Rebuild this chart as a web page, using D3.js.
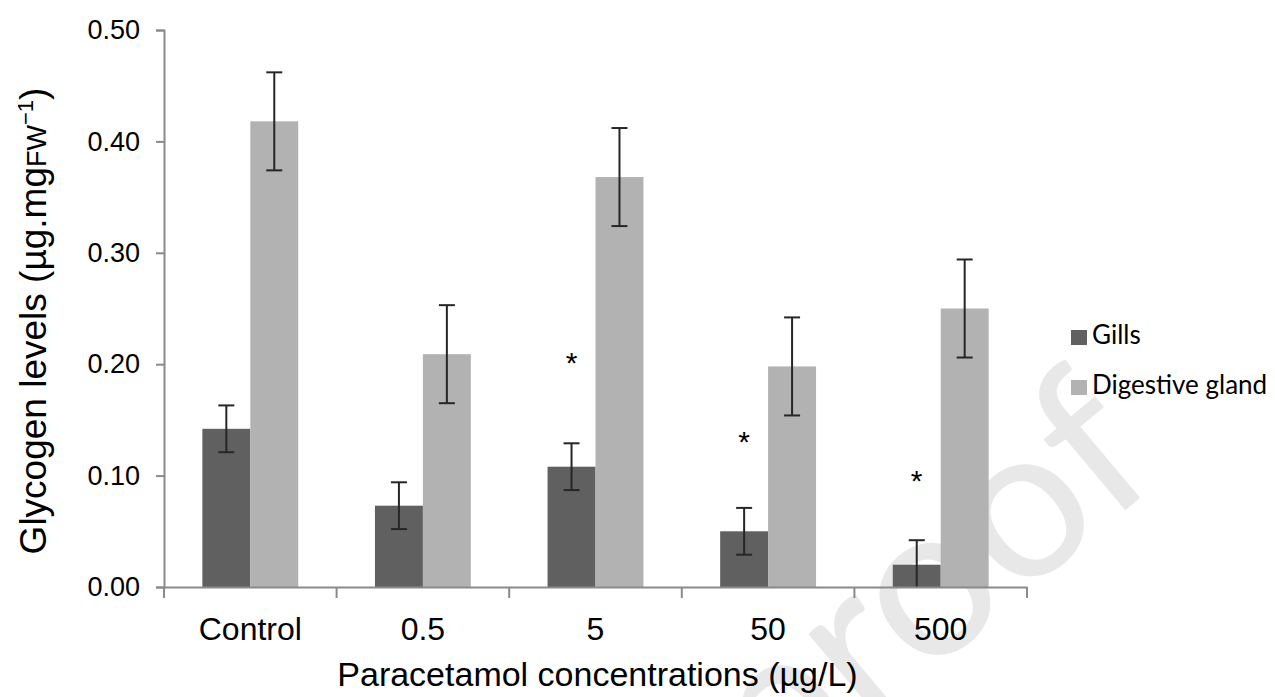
<!DOCTYPE html>
<html>
<head>
<meta charset="utf-8">
<script src="https://cdnjs.cloudflare.com/ajax/libs/d3/7.8.5/d3.min.js"></script>
<style>
    body { margin: 0; background: #fff; }
    text { font-family: Arial, "Liberation Sans", sans-serif; }
</style>
</head>
<body>
<div id="chart"></div>
<script>
// data
const categories = ["Control", "0.5", "5", "50", "500"];
const seriesNames = ["Gills", "Digestive gland"];
const gills = [0.142, 0.073, 0.108, 0.050, 0.020];
const gillsErr = [0.021, 0.021, 0.021, 0.021, 0.022];
const gland = [0.418, 0.209, 0.368, 0.198, 0.250];
const glandErr = [0.044, 0.044, 0.044, 0.044, 0.044];
// level (in y units) where the "*" marks sit, null = no mark
const starLevels = [null, null, 0.206, 0.135, 0.100];
const yTicks = [0, 0.1, 0.2, 0.3, 0.4, 0.5];

const width = 1275, height = 697;
const margin = { top: 30, right: 248, bottom: 110, left: 164 };
const colors = { "Gills": "#606060", "Digestive gland": "#b2b2b2" };
const axisColor = "#8a8a8a";

let svg = d3.select("#chart").append("svg")
    .attr("width", width)
    .attr("height", height);

// watermark
svg.append("text")
    .attr("transform", "translate(1166,476) rotate(-40)")
    .attr("text-anchor", "end")
    .attr("font-size", 215)
    .attr("fill", "#e8e8e8")
    .style("font-family", "Lato, sans-serif")
    .text("Journal Pre-proof");

let g = svg.append("g").attr("transform", `translate(${margin.left},${margin.top})`);
let w = width - margin.left - margin.right;
let h = height - margin.top - margin.bottom;

let x0 = d3.scaleBand().domain(categories).range([0, w]).padding(0);
let x1 = d3.scaleBand().domain(seriesNames).range([0, x0.bandwidth()]).paddingInner(0).paddingOuter(0.8);
let y = d3.scaleLinear().domain([0, 0.5]).range([h, 0]);

let rows = categories.map((c, i) => ({
    cat: c,
    star: starLevels[i],
    vals: [
        { name: "Gills", v: gills[i], e: gillsErr[i] },
        { name: "Digestive gland", v: gland[i], e: glandErr[i] }
    ]
}));

// y axis
let yAxis = g.append("g")
    .call(d3.axisLeft(y).tickValues(yTicks).tickSize(8).tickPadding(16).tickFormat(d3.format(".2f")));
yAxis.select(".domain").attr("stroke", axisColor).attr("stroke-width", 2);
yAxis.selectAll(".tick line").attr("stroke", axisColor).attr("stroke-width", 2);
yAxis.selectAll("text").attr("font-size", 27).attr("fill", "#000");

// bars
let groups = g.selectAll(".grp").data(rows).enter().append("g")
    .attr("transform", d => `translate(${x0(d.cat)},0)`);

groups.selectAll("rect").data(d => d.vals).enter().append("rect")
    .attr("x", d => x1(d.name))
    .attr("y", d => y(d.v))
    .attr("width", x1.bandwidth())
    .attr("height", d => h - y(d.v))
    .attr("fill", d => colors[d.name]);

// error bars
let cx = d => x1(d.name) + x1.bandwidth() / 2;
let eb = groups.selectAll(".err").data(d => d.vals).enter().append("g")
    .attr("stroke", "#262626")
    .attr("stroke-width", 2);
eb.append("line")
    .attr("x1", cx).attr("x2", cx)
    .attr("y1", d => y(Math.max(0, d.v - d.e)))
    .attr("y2", d => y(d.v + d.e));
eb.append("line")
    .attr("x1", d => cx(d) - 8).attr("x2", d => cx(d) + 8)
    .attr("y1", d => y(d.v + d.e)).attr("y2", d => y(d.v + d.e));
eb.filter(d => d.v - d.e > 0.001).append("line")
    .attr("x1", d => cx(d) - 8).attr("x2", d => cx(d) + 8)
    .attr("y1", d => y(d.v - d.e)).attr("y2", d => y(d.v - d.e));

// significance stars over gills
groups.filter(d => d.star !== null).append("text")
    .attr("x", x1("Gills") + x1.bandwidth() / 2)
    .attr("y", d => y(d.star) + 15)
    .attr("text-anchor", "middle")
    .attr("font-size", 30)
    .text("*");

// x axis
let xAxis = g.append("g")
    .attr("transform", `translate(0,${h})`)
    .call(d3.axisBottom(x0).tickSize(0).tickPadding(30));
xAxis.select(".domain").attr("stroke", axisColor).attr("stroke-width", 2);
xAxis.selectAll("text").attr("font-size", 32).attr("fill", "#000");
xAxis.selectAll(".sep").data(d3.range(categories.length + 1)).enter().append("line")
    .attr("x1", i => i * x0.step())
    .attr("x2", i => i * x0.step())
    .attr("y1", 0)
    .attr("y2", 11)
    .attr("stroke", axisColor)
    .attr("stroke-width", 2);

// axis titles
g.append("text")
    .attr("x", w / 2 + 2)
    .attr("y", h + 99)
    .attr("text-anchor", "middle")
    .attr("font-size", 34)
    .text("Paracetamol concentrations (µg/L)");

let yTitle = svg.append("text")
    .attr("transform", "translate(46,321) rotate(-90)")
    .attr("text-anchor", "middle")
    .attr("font-size", 37);
yTitle.append("tspan").text("Glycogen levels (µg.mg");
yTitle.append("tspan").attr("font-size", 27).text("FW");
yTitle.append("tspan").attr("font-size", 22).attr("dy", -13).text("−1");
yTitle.append("tspan").attr("dy", 13).text(")");

// legend
let legend = svg.append("g").attr("transform", "translate(1071,330)");
let li = legend.selectAll("g").data(seriesNames).enter().append("g")
    .attr("transform", (d, i) => `translate(0,${i * 50})`);
li.append("rect").attr("width", 16).attr("height", 15)
    .attr("fill", d => colors[d]);
li.append("text")
    .attr("x", 21)
    .attr("y", 14)
    .attr("font-size", 26)
    .attr("fill", "#000")
    .style("font-family", "Lato, 'Open Sans', sans-serif")
    .text(d => d);
</script>
</body>
</html>
